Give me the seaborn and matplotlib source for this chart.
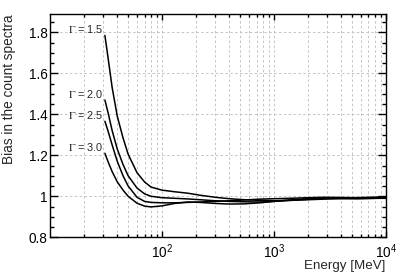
import numpy as np
import pandas as pd
import seaborn as sns
import matplotlib
matplotlib.use("Agg")
import matplotlib.pyplot as plt
from matplotlib.ticker import LogLocator, LogFormatterMathtext, MultipleLocator, FormatStrFormatter, NullFormatter

# energy points (MeV)
energy = [31, 33, 36, 40, 45, 50, 60, 70, 80, 100, 130, 170, 220, 300, 400,
          550, 750, 1000, 1400, 2000, 2800, 4000, 5600, 8000, 10000]

# bias for each photon index
bias_15 = [1.785, 1.68, 1.53, 1.39, 1.285, 1.205, 1.115, 1.07, 1.045, 1.030, 1.022,
           1.015, 1.005, 0.995, 0.988, 0.983, 0.980, 0.978, 0.980, 0.983, 0.986,
           0.988, 0.989, 0.990, 0.990]
bias_20 = [1.47, 1.41, 1.32, 1.23, 1.155, 1.10, 1.04, 1.012, 1.0, 0.993, 0.990,
           0.987, 0.983, 0.978, 0.975, 0.973, 0.972, 0.975, 0.980, 0.985, 0.990,
           0.992, 0.993, 0.994, 0.995]
bias_25 = [1.366, 1.32, 1.25, 1.17, 1.10, 1.05, 0.995, 0.975, 0.970, 0.968, 0.968,
           0.970, 0.972, 0.975, 0.978, 0.982, 0.986, 0.988, 0.990, 0.993, 0.995,
           0.994, 0.993, 0.995, 0.996]
bias_30 = [1.21, 1.17, 1.12, 1.07, 1.03, 1.0, 0.966, 0.952, 0.948, 0.953, 0.965,
           0.972, 0.970, 0.965, 0.962, 0.963, 0.968, 0.975, 0.982, 0.988, 0.992,
           0.990, 0.988, 0.990, 0.992]

gammas = ["1.5", "2.0", "2.5", "3.0"]
series = [bias_15, bias_20, bias_25, bias_30]

df = pd.concat([pd.DataFrame({"Energy": energy, "Bias": b, "Gamma": g})
                for g, b in zip(gammas, series)], ignore_index=True)

sns.set_theme(style="ticks")
plt.rcParams["font.family"] = ["Liberation Sans", "DejaVu Sans"]
plt.rcParams["mathtext.fontset"] = "custom"
plt.rcParams["mathtext.rm"] = "Liberation Sans"
plt.rcParams["mathtext.it"] = "Liberation Sans:italic"
plt.rcParams["mathtext.bf"] = "Liberation Sans:bold"

fig = plt.figure(figsize=(3.99, 2.73), dpi=100)
ax = fig.add_axes([0.125, 0.131, 0.842, 0.818])

sns.lineplot(data=df, x="Energy", y="Bias", hue="Gamma",
             palette=["black"] * 4, linewidth=1.1, legend=False, ax=ax)

ax.set_xscale("log")
ax.set_xlim(10, 1e4)
ax.set_ylim(0.8, 1.89)

ax.xaxis.set_major_locator(LogLocator(base=10, numticks=10))
ax.xaxis.set_minor_locator(LogLocator(base=10, subs=np.arange(2, 10), numticks=20))
ax.xaxis.set_major_formatter(LogFormatterMathtext())
ax.xaxis.set_minor_formatter(NullFormatter())
ax.yaxis.set_major_locator(MultipleLocator(0.2))
ax.yaxis.set_minor_locator(MultipleLocator(0.05))
ax.yaxis.set_major_formatter(FormatStrFormatter("%g"))

ax.grid(which="major", axis="both", color="#c4c4c4", linestyle=(0, (2.5, 2.5)), linewidth=0.7)
ax.grid(which="minor", axis="x", color="#c4c4c4", linestyle=(0, (2.5, 2.5)), linewidth=0.7)

ax.tick_params(axis="both", which="both", direction="in", top=True, right=True,
               colors="black", labelsize=9.8, width=1.0)
ax.tick_params(axis="x", which="major", length=4.5, pad=3.5)
ax.tick_params(axis="x", which="minor", length=2.2)
ax.tick_params(axis="y", which="major", length=6, pad=1.5)
ax.tick_params(axis="y", which="minor", length=3)
for s in ax.spines.values():
    s.set_linewidth(1.0)
    s.set_color("black")

# drop the 10^1 label at the left edge
labels = ax.get_xticks()
ax.set_xticks([t for t in labels if 50 < t < 2e4])

ax.set_xlabel("Energy [MeV]", fontsize=9.6, loc="right")
ax.set_ylabel("Bias in the count spectra", fontsize=9.8, loc="top")
ax.xaxis.set_label_coords(1.0, -0.1)
ax.yaxis.set_label_coords(-0.10, 1.0)

for g, b in zip(gammas, series):
    ax.text(30, b[0] + 0.012, r"$\Gamma$ = " + g, ha="right", va="baseline",
            fontsize=7.8, math_fontfamily="stix")

fig.savefig("out.png", dpi=100)
